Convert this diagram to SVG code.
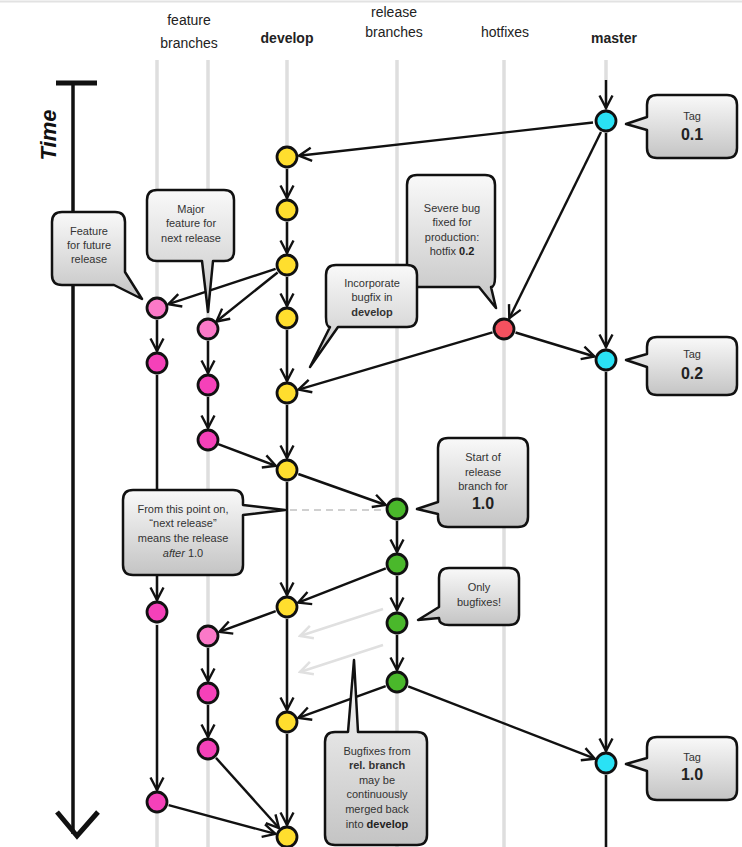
<svg xmlns="http://www.w3.org/2000/svg" width="742" height="847" viewBox="0 0 742 847">
<style>
.hdr{font-family:"Liberation Sans",Arial,sans-serif;font-size:14px;fill:#222;text-anchor:middle}
.b{font-weight:bold}
.lane{stroke:#dedede;stroke-width:3.5}
.e{stroke:#111;stroke-width:2.4;fill:none;marker-end:url(#ah)}
.g{stroke:#e0e0e0;stroke-width:2.5;fill:none;marker-end:url(#ahg)}
.n{stroke:#111;stroke-width:2.8}
.dev{fill:#ffde2e}.fea{fill:#f541b9}.fel{fill:#fb79c8}.rel{fill:#4ab82b}.mas{fill:#2ae2f5}.hot{fill:#f4515f}
.co{fill:url(#cg);stroke:#111;stroke-width:2.5;stroke-linejoin:round}
.ct{font-family:"Liberation Sans",Arial,sans-serif;font-size:11px;fill:#333;text-anchor:middle}
.tg{font-family:"Liberation Sans",Arial,sans-serif;font-size:16px;font-weight:bold;fill:#222;text-anchor:middle}
</style>
<defs>
<linearGradient id="cg" x1="0" y1="0" x2="0" y2="1">
<stop offset="0" stop-color="#f9f9f9"/>
<stop offset="1" stop-color="#c4c4c4"/>
</linearGradient>
<marker id="ah" viewBox="0 0 16 16" refX="14" refY="8" markerWidth="16" markerHeight="16" markerUnits="userSpaceOnUse" orient="auto">
<path d="M1.5,1.5 L14,8 L1.5,14.5" fill="none" stroke="#111" stroke-width="2.4"/>
</marker>
<marker id="ahg" viewBox="0 0 16 16" refX="14" refY="8" markerWidth="16" markerHeight="16" markerUnits="userSpaceOnUse" orient="auto">
<path d="M1.5,1.5 L14,8 L1.5,14.5" fill="none" stroke="#e0e0e0" stroke-width="2.5"/>
</marker>
</defs>
<rect width="742" height="847" fill="#fff"/>
<line x1="0" y1="1.5" x2="742" y2="1.5" stroke="#e2e2e2" stroke-width="2"/>

<g id="headers">
<text class="hdr" x="189" y="25">feature</text>
<text class="hdr" x="189" y="48">branches</text>
<text class="hdr b" x="287" y="43">develop</text>
<text class="hdr" x="394" y="17">release</text>
<text class="hdr" x="394" y="37">branches</text>
<text class="hdr" x="505" y="37">hotfixes</text>
<text class="hdr b" x="614" y="43">master</text>
</g>

<g id="lanes">
<line class="lane" x1="157" y1="60" x2="157" y2="847"/>
<line class="lane" x1="208" y1="60" x2="208" y2="847"/>
<line class="lane" x1="287" y1="60" x2="287" y2="847"/>
<line class="lane" x1="397" y1="60" x2="397" y2="847"/>
<line class="lane" x1="504" y1="60" x2="504" y2="847"/>
<line class="lane" x1="606" y1="60" x2="606" y2="847"/>
</g>

<g id="time">
<line x1="73" y1="84" x2="73" y2="834" stroke="#111" stroke-width="3.5"/>
<line x1="56" y1="83" x2="97" y2="83" stroke="#111" stroke-width="5"/>
<polyline points="57,812 77,836 98,812" fill="none" stroke="#111" stroke-width="5" stroke-linejoin="miter"/>
<text transform="translate(56,135) rotate(-90)" font-family="'Liberation Sans',Arial,sans-serif" font-size="22" font-weight="bold" font-style="italic" fill="#111" text-anchor="middle">Time</text>
</g>

<g id="connectors">
<line class="e" x1="606" y1="80" x2="606" y2="108"/>
<line class="e" x1="593" y1="122.5" x2="299" y2="155.7"/>
<line class="e" x1="601" y1="132" x2="509.3" y2="318.2"/>
<line class="e" x1="606" y1="133" x2="606" y2="347"/>
<line class="e" x1="515.5" y1="332.5" x2="594.5" y2="356.5"/>
<line class="e" x1="492.5" y1="332.4" x2="298.5" y2="389.6"/>
<line class="e" x1="287" y1="169" x2="287" y2="198"/>
<line class="e" x1="287" y1="222" x2="287" y2="253"/>
<line class="e" x1="287" y1="277" x2="287" y2="306"/>
<line class="e" x1="287" y1="330" x2="287" y2="381"/>
<line class="e" x1="287" y1="405" x2="287" y2="458"/>
<line class="e" x1="287" y1="482" x2="287" y2="595"/>
<line class="e" x1="287" y1="619" x2="287" y2="710"/>
<line class="e" x1="287" y1="734" x2="287" y2="825"/>
<line class="e" x1="275.6" y1="268.8" x2="168.4" y2="304.2"/>
<line class="e" x1="277.6" y1="272.5" x2="216.4" y2="321.5"/>
<line class="e" x1="157" y1="320" x2="157" y2="351"/>
<line class="e" x1="157" y1="375" x2="157" y2="600"/>
<line class="e" x1="157" y1="625" x2="157" y2="790"/>
<line class="e" x1="208" y1="341" x2="208" y2="373"/>
<line class="e" x1="208" y1="397" x2="208" y2="428"/>
<line class="e" x1="218.2" y1="444.2" x2="275.8" y2="465.8"/>
<line class="e" x1="298.3" y1="474" x2="385.7" y2="505"/>
<line x1="290" y1="510" x2="384" y2="510" stroke="#d0d0d0" stroke-width="2" stroke-dasharray="7,5"/>
<line class="e" x1="397" y1="521" x2="397" y2="552"/>
<line class="e" x1="397" y1="576" x2="397" y2="610"/>
<line class="e" x1="397" y1="635" x2="397" y2="670"/>
<line class="e" x1="385.8" y1="568.4" x2="298.2" y2="602.6"/>
<line class="e" x1="275.7" y1="611.1" x2="219.3" y2="631.9"/>
<line class="g" x1="383" y1="609" x2="300" y2="636"/>
<line class="g" x1="383" y1="645" x2="300" y2="672"/>
<line class="e" x1="208" y1="648" x2="208" y2="681"/>
<line class="e" x1="208" y1="705" x2="208" y2="737"/>
<line class="e" x1="385.7" y1="686.1" x2="298.3" y2="717.9"/>
<line class="e" x1="408.2" y1="686.3" x2="594.8" y2="758.7"/>
<line class="e" x1="606" y1="372" x2="606" y2="751"/>
<line x1="606" y1="775" x2="606" y2="847" stroke="#111" stroke-width="2.4"/>
<line class="e" x1="216" y1="757.9" x2="279" y2="828"/>
<line class="e" x1="168.6" y1="805.1" x2="275.4" y2="833.9"/>
</g>

<g id="nodes">
<circle id="m01" class="n mas" cx="606" cy="121" r="10"/>
<circle id="m02" class="n mas" cx="606" cy="360" r="10"/>
<circle id="m10" class="n mas" cx="606" cy="763" r="10"/>
<circle id="h02" class="n hot" cx="504" cy="329" r="10"/>
<circle id="d1" class="n dev" cx="287" cy="157" r="10"/>
<circle id="d2" class="n dev" cx="287" cy="210" r="10"/>
<circle id="d3" class="n dev" cx="287" cy="265" r="10"/>
<circle id="d4" class="n dev" cx="287" cy="318" r="10"/>
<circle id="d5" class="n dev" cx="287" cy="393" r="10"/>
<circle id="d6" class="n dev" cx="287" cy="470" r="10"/>
<circle id="d7" class="n dev" cx="287" cy="607" r="10"/>
<circle id="d8" class="n dev" cx="287" cy="722" r="10"/>
<circle id="d9" class="n dev" cx="287" cy="837" r="10"/>
<circle id="f1a" class="n fel" cx="157" cy="308" r="10"/>
<circle id="f1b" class="n fea" cx="157" cy="363" r="10"/>
<circle id="f1c" class="n fea" cx="157" cy="612" r="10"/>
<circle id="f1d" class="n fea" cx="157" cy="802" r="10"/>
<circle id="f2a" class="n fel" cx="208" cy="329" r="10"/>
<circle id="f2b" class="n fea" cx="208" cy="385" r="10"/>
<circle id="f2c" class="n fea" cx="208" cy="440" r="10"/>
<circle id="f2d" class="n fel" cx="208" cy="636" r="10"/>
<circle id="f2e" class="n fea" cx="208" cy="693" r="10"/>
<circle id="f2f" class="n fea" cx="208" cy="749" r="10"/>
<circle id="r1" class="n rel" cx="397" cy="509" r="10"/>
<circle id="r2" class="n rel" cx="397" cy="564" r="10"/>
<circle id="r3" class="n rel" cx="397" cy="623" r="10"/>
<circle id="r4" class="n rel" cx="397" cy="682" r="10"/>
</g>

<g id="callout-tag01">
<path class="co" d="M657,95 H727 Q737,95 737,105 V148 Q737,158 727,158 H657 Q647,158 647,148 V130 L626,124 L647,117 V105 Q647,95 657,95 Z"/>
<text class="ct" x="692" y="120">Tag</text>
<text class="tg" x="692" y="140">0.1</text>
</g>
<g id="callout-tag02">
<path class="co" d="M657,337 H727 Q737,337 737,347 V385 Q737,395 727,395 H657 Q647,395 647,385 V367 L626,360 L647,354 V347 Q647,337 657,337 Z"/>
<text class="ct" x="692" y="358">Tag</text>
<text class="tg" x="692" y="379">0.2</text>
</g>
<g id="callout-tag10">
<path class="co" d="M657,737 H727 Q737,737 737,747 V790 Q737,800 727,800 H657 Q647,800 647,790 V771 L626,764 L647,758 V747 Q647,737 657,737 Z"/>
<text class="ct" x="692" y="761">Tag</text>
<text class="tg" x="692" y="780">1.0</text>
</g>
<g id="callout-future">
<path class="co" d="M62,212 H115 Q125,212 125,222 V272 L142,299 L114,285 H62 Q52,285 52,275 V222 Q52,212 62,212 Z"/>
<text class="ct" x="89" y="235">Feature</text>
<text class="ct" x="89" y="249">for future</text>
<text class="ct" x="89" y="263">release</text>
</g>
<g id="callout-major">
<path class="co" d="M157,190 H224 Q234,190 234,200 V251 Q234,261 224,261 H213 L208,312 L202,261 H157 Q147,261 147,251 V200 Q147,190 157,190 Z"/>
<text class="ct" x="191" y="213">Major</text>
<text class="ct" x="191" y="227">feature for</text>
<text class="ct" x="191" y="242">next release</text>
</g>
<g id="callout-severe">
<path class="co" d="M417,175 H485 Q495,175 495,185 V277 Q495,287 491,287 L496,308 L479,287 H417 Q407,287 407,277 V185 Q407,175 417,175 Z"/>
<text class="ct" x="452" y="212">Severe bug</text>
<text class="ct" x="452" y="226">fixed for</text>
<text class="ct" x="452" y="241">production:</text>
<text class="ct" x="452" y="255">hotfix <tspan font-weight="bold" fill="#222">0.2</tspan></text>
</g>
<g id="callout-incorporate">
<path class="co" d="M336,265 H407 Q417,265 417,275 V317 Q417,327 407,327 H338 L310,367 L330,327 Q326,327 326,317 V275 Q326,265 336,265 Z"/>
<text class="ct" x="372" y="287">Incorporate</text>
<text class="ct" x="372" y="301">bugfix in</text>
<text class="ct b" x="372" y="316" fill="#222">develop</text>
</g>
<g id="callout-start">
<path class="co" d="M448,438 H518 Q528,438 528,448 V517 Q528,527 518,527 H448 Q438,527 438,517 V514 L417,509 L438,502 V448 Q438,438 448,438 Z"/>
<text class="ct" x="483" y="461">Start of</text>
<text class="ct" x="483" y="476">release</text>
<text class="ct" x="483" y="490">branch for</text>
<text class="tg" x="483" y="509" font-size="15">1.0</text>
</g>
<g id="callout-frompoint">
<path class="co" d="M133,490 H233 Q243,490 243,500 V505 L285,510 L243,515 V565 Q243,575 233,575 H133 Q123,575 123,565 V500 Q123,490 133,490 Z"/>
<text class="ct" x="183" y="513">From this point on,</text>
<text class="ct" x="183" y="527">“next release”</text>
<text class="ct" x="183" y="542">means the release</text>
<text class="ct" x="183" y="557"><tspan font-style="italic">after</tspan> 1.0</text>
</g>
<g id="callout-only">
<path class="co" d="M449,568 H509 Q519,568 519,578 V615 Q519,625 509,625 H449 Q439,625 439,618 L418,620 L439,607 V578 Q439,568 449,568 Z"/>
<text class="ct" x="479" y="591">Only</text>
<text class="ct" x="479" y="606">bugfixes!</text>
</g>
<g id="callout-bugfixes">
<path class="co" d="M335,732 H348 L354,660 L358,732 H417 Q427,732 427,742 V835 Q427,845 417,845 H335 Q325,845 325,835 V742 Q325,732 335,732 Z"/>
<text class="ct" x="377" y="755">Bugfixes from</text>
<text class="ct b" x="377" y="769" fill="#222">rel. branch</text>
<text class="ct" x="377" y="784">may be</text>
<text class="ct" x="377" y="798">continuously</text>
<text class="ct" x="377" y="813">merged back</text>
<text class="ct" x="377" y="828">into <tspan font-weight="bold" fill="#222">develop</tspan></text>
</g>
</svg>
